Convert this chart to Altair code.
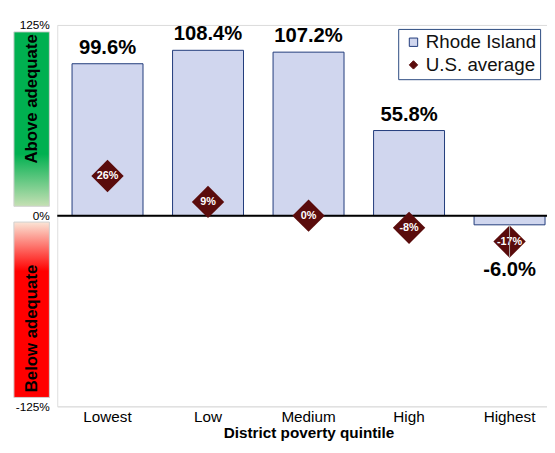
import altair as alt
import pandas as pd

categories = ["Lowest", "Low", "Medium", "High", "Highest"]
ri_values = [99.6, 108.4, 107.2, 55.8, -6.0]
us_values = [26, 9, 0, -8, -17]
y_ticks = [-125, 0, 125]
series_names = ["Rhode Island", "U.S. average"]

FONT = "Liberation Sans"
BAR_FILL = "#d0d6ee"
BAR_STROKE = "#1f3a7a"
US_COLOR = "#5a0c0c"

df = pd.DataFrame({"cat": categories, "ri": ri_values, "us": us_values})
df["ri_series"] = series_names[0]
df["us_series"] = series_names[1]
df["ri_label"] = [f"{v:.1f}%" for v in ri_values]
df["us_label"] = [f"{v}%" for v in us_values]

one = pd.DataFrame({"k": [0]})

x_enc = alt.X(
    "cat:N",
    sort=categories,
    scale=alt.Scale(range=[0, 510], paddingInner=0.294, paddingOuter=0.147),
    axis=alt.Axis(
        title="District poverty quintile",
        titleFont=FONT, titleFontSize=15.5, titleFontWeight="bold", titleColor="black",
        titlePadding=1.5,
        labelFont=FONT, labelFontSize=15.5, labelColor="black", labelAngle=0,
        labelPadding=3, domain=False, ticks=False,
    ),
)
y_scale = alt.Scale(domain=[-125, 125], nice=False)
y_axis = alt.Axis(
    values=y_ticks, title=None, labelExpr="datum.value + '%'",
    labelFont=FONT, labelFontSize=12, labelColor="black", labelPadding=8,
    domain=False, ticks=False, grid=True, gridColor="#dcdcdc", gridWidth=1,
)

color_scale = alt.Scale(domain=series_names, range=[BAR_FILL, US_COLOR])
stroke_scale = alt.Scale(domain=series_names, range=[BAR_STROKE, US_COLOR])
shape_scale = alt.Scale(domain=series_names, range=["square", "diamond"])
legend = alt.Legend(
    title=None, orient="none", legendX=346, legendY=4,
    labelFont=FONT, labelFontSize=19, labelColor="#111111",
    strokeColor="#2c4a80", padding=4, rowPadding=3, symbolSize=72,
    symbolStrokeWidth=1, symbolOffset=2, labelOffset=3,
)

base = alt.Chart(df)

bars = base.mark_bar(strokeWidth=1).encode(
    x=x_enc,
    y=alt.Y("ri:Q", scale=y_scale, axis=y_axis),
    color=alt.Color("ri_series:N", scale=color_scale, legend=legend),
    stroke=alt.Stroke("ri_series:N", scale=stroke_scale, legend=legend),
)

zero_rule = alt.Chart(one).mark_rule(color="black", strokeWidth=2).encode(
    y=alt.datum(0, scale=y_scale)
)

pos_labels = base.transform_filter("datum.ri >= 0").mark_text(
    font=FONT, fontSize=20.5, fontWeight="bold", color="black",
    baseline="alphabetic", dy=-10,
).encode(x=alt.X("cat:N", sort=categories), y="ri:Q", text="ri_label:N")

neg_labels = base.transform_filter("datum.ri < 0").mark_text(
    font=FONT, fontSize=20.5, fontWeight="bold", color="black",
    baseline="alphabetic", dy=52,
).encode(x=alt.X("cat:N", sort=categories), y="ri:Q", text="ri_label:N")

diamonds = base.mark_point(filled=True, size=1080, opacity=1, strokeWidth=0).encode(
    x=alt.X("cat:N", sort=categories),
    y="us:Q",
    color=alt.Color("us_series:N", scale=color_scale, legend=legend),
    stroke=alt.Stroke("us_series:N", scale=stroke_scale, legend=legend),
    shape=alt.Shape("us_series:N", scale=shape_scale, legend=legend),
)

diamond_labels = base.mark_text(
    font=FONT, fontSize=11, fontWeight="bold", color="white", baseline="middle"
).encode(x=alt.X("cat:N", sort=categories), y="us:Q", text="us_label:N")

leader = base.transform_filter("datum.ri < 0").mark_rule(
    color="#b0b0b0", strokeWidth=1
).encode(x=alt.X("cat:N", sort=categories), y="ri:Q", y2=alt.datum(-27))

green = alt.Gradient(
    gradient="linear", x1=0, y1=0, x2=0, y2=1,
    stops=[
        alt.GradientStop(color="#00b050", offset=0),
        alt.GradientStop(color="#00b050", offset=0.7),
        alt.GradientStop(color="#c6e0b4", offset=1),
    ],
)
red = alt.Gradient(
    gradient="linear", x1=0, y1=0, x2=0, y2=1,
    stops=[
        alt.GradientStop(color="#fbe5d6", offset=0),
        alt.GradientStop(color="#ff0000", offset=0.28),
        alt.GradientStop(color="#ff0000", offset=1),
    ],
)
green_box = alt.Chart(one).mark_rect(color=green, stroke="#d0d0d0", strokeWidth=1).encode(
    x=alt.value(-44), x2=alt.value(-8), y=alt.value(7), y2=alt.value(184)
)
red_box = alt.Chart(one).mark_rect(color=red, stroke="#d0d0d0", strokeWidth=1).encode(
    x=alt.value(-44), x2=alt.value(-8), y=alt.value(200), y2=alt.value(378)
)
above_text = alt.Chart(one).mark_text(
    text="Above adequate", angle=270, font=FONT, fontSize=17, fontWeight="bold",
    color="black", align="center", baseline="middle",
).encode(x=alt.value(-26), y=alt.value(75))
below_text = alt.Chart(one).mark_text(
    text="Below adequate", angle=270, font=FONT, fontSize=17, fontWeight="bold",
    color="black", align="center", baseline="middle",
).encode(x=alt.value(-26), y=alt.value(308))

chart = alt.layer(
    bars, zero_rule, pos_labels, neg_labels, diamonds, diamond_labels, leader,
    green_box, red_box, above_text, below_text,
).properties(
    width=497, height=387,
    autosize=alt.AutoSizeParams(type="none"),
    padding={"left": 50, "top": 14, "right": 0, "bottom": 36},
).configure_view(stroke=None).configure(background="white")

chart.save("out.html", embed_options={"renderer": "svg", "actions": False})
